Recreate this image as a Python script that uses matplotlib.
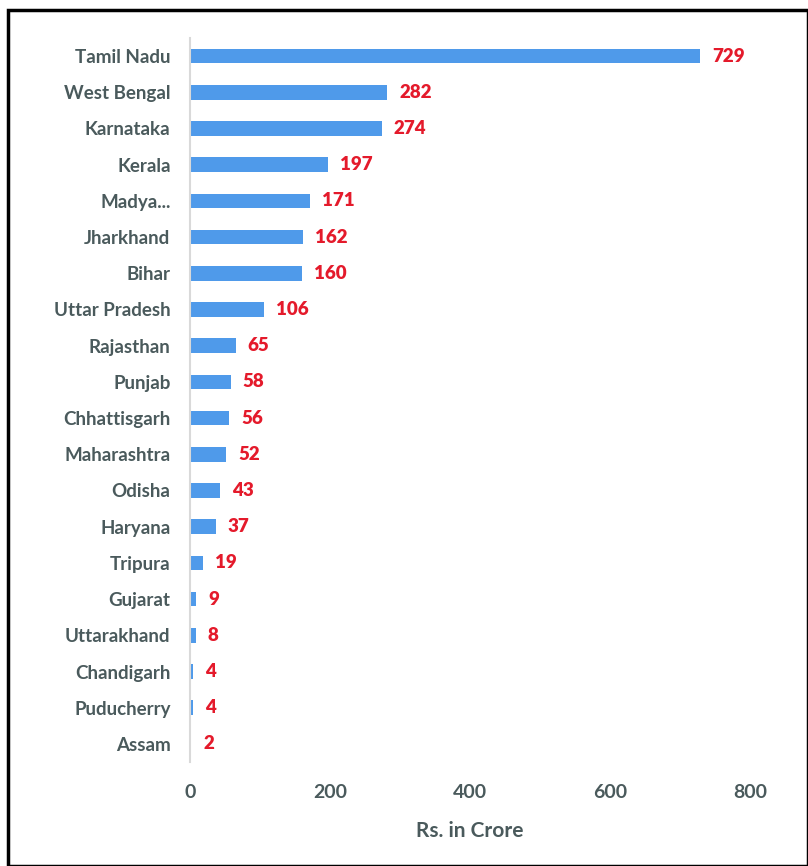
import matplotlib.pyplot as plt
from matplotlib.patches import Rectangle

states = ['Tamil Nadu', 'West Bengal', 'Karnataka', 'Kerala', 'Madya...', 'Jharkhand',
          'Bihar', 'Uttar Pradesh', 'Rajasthan', 'Punjab', 'Chhattisgarh', 'Maharashtra',
          'Odisha', 'Haryana', 'Tripura', 'Gujarat', 'Uttarakhand', 'Chandigarh',
          'Puducherry', 'Assam']
amounts = [729, 282, 274, 197, 171, 162, 160, 106, 65, 58, 56, 52, 43, 37, 19, 9, 8, 4, 4, 2]
xticks = [0, 200, 400, 600, 800]

plt.rcParams['font.family'] = ['Lato', 'DejaVu Sans']
text_col = '#4a5a5c'

W, H = 808, 866
fig = plt.figure(figsize=(W / 100, H / 100), dpi=100)
ax = fig.add_axes([190 / W, 1 - 762 / H, 560 / W, 724 / H])

ypos = list(range(len(states)))
ax.barh(ypos, amounts, height=0.4, color='#4f9aea')
for y, v in zip(ypos, amounts):
    ax.text(v + 17, y, str(v), color='#e41a2b', fontsize=13.5, fontweight='heavy',
            va='center', ha='left')

ax.set_ylim(len(states) - 0.5, -0.5)
ax.set_xlim(0, 800)
ax.set_yticks(ypos)
ax.set_yticklabels(states, fontsize=13.5, fontweight='bold', color=text_col)
ax.set_xticks(xticks)
ax.set_xticklabels([str(t) for t in xticks], fontsize=14, fontweight='bold', color=text_col)
ax.tick_params(length=0)
ax.tick_params(axis='y', pad=14)
ax.tick_params(axis='x', pad=16)
for s in ['top', 'right', 'bottom']:
    ax.spines[s].set_visible(False)
ax.spines['left'].set_color('#d9d9d9')
ax.spines['left'].set_linewidth(1.5)
ax.set_xlabel('Rs. in Crore', fontsize=15, fontweight='bold', color=text_col, labelpad=14)

fig.patches.append(Rectangle((8 / W, 0), (W - 8) / W, (H - 10) / H, transform=fig.transFigure,
                             fill=False, edgecolor='black', linewidth=2.5))

fig.savefig('out.png', dpi=100)
